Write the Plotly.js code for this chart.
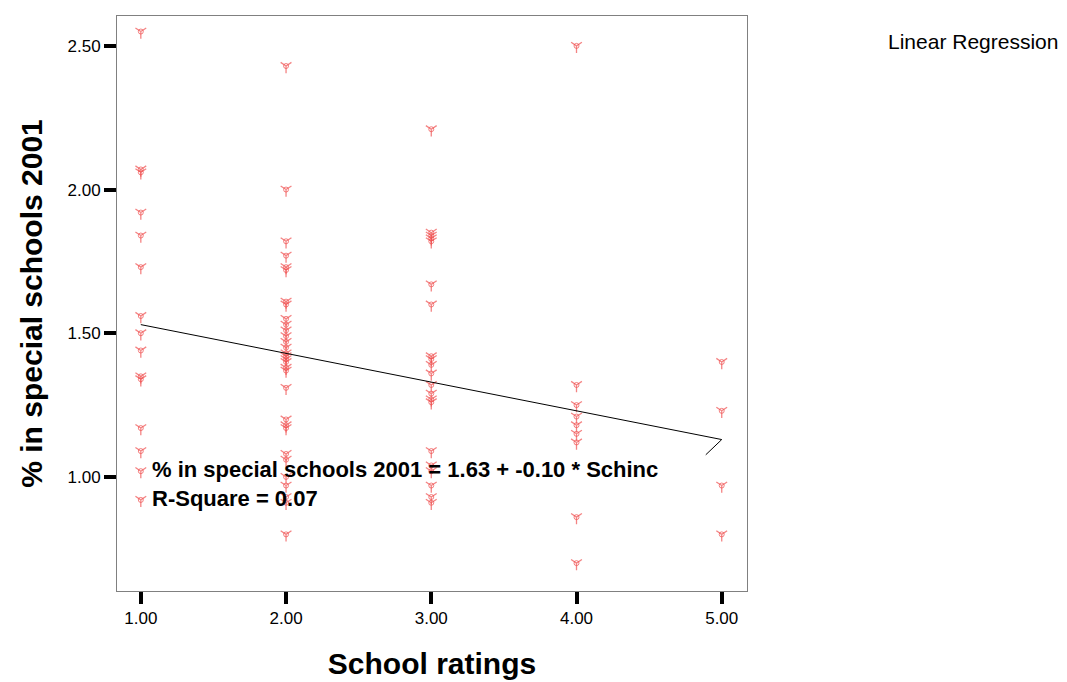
<!DOCTYPE html>
<html>
<head>
<meta charset="utf-8">
<script src="https://cdn.plot.ly/plotly-3.0.1.min.js"></script>
<style>html,body{margin:0;padding:0;background:#fff;}#chart{width:1067px;height:682px;}</style>
</head>
<body>
<div id="chart"></div>
<script>
// School rating categories and observed % in special schools 2001
const rating1 = [2.55, 2.07, 2.06, 1.92, 1.84, 1.73, 1.56, 1.50, 1.44, 1.35, 1.34, 1.17, 1.09, 1.02, 0.92];
const rating2 = [2.43, 2.00, 1.82, 1.77, 1.73, 1.72, 1.61, 1.60, 1.55, 1.53, 1.51, 1.49, 1.47, 1.45, 1.43, 1.42, 1.41, 1.40, 1.38, 1.37, 1.31, 1.20, 1.18, 1.17, 1.08, 1.06, 1.00, 0.97, 0.93, 0.91, 0.80];
const rating3 = [2.21, 1.85, 1.84, 1.83, 1.82, 1.67, 1.60, 1.42, 1.41, 1.39, 1.36, 1.32, 1.29, 1.27, 1.26, 1.09, 1.04, 1.02, 0.97, 0.93, 0.91];
const rating4 = [2.50, 1.32, 1.25, 1.21, 1.18, 1.15, 1.12, 0.86, 0.70];
const rating5 = [1.40, 1.23, 0.97, 0.80];
const ratingGroups = [1, 2, 3, 4, 5];
const groupValues = [rating1, rating2, rating3, rating4, rating5];

// Fitted regression line (as drawn, including short end stroke)
const fitX = [1, 5, 4.89];
const fitY = [1.53, 1.13, 1.077];

const xTicks = [1, 2, 3, 4, 5];
const yTicks = [1.0, 1.5, 2.0, 2.5];

const equationText = "% in special schools 2001 = 1.63 + -0.10 * Schinc<br>R-Square = 0.07";
const legendText = "Linear Regression";
const xTitle = "School ratings";
const yTitle = "% in special schools 2001";

const ptsX = [], ptsY = [];
ratingGroups.forEach((g, i) => {
  groupValues[i].forEach(v => { ptsX.push(g); ptsY.push(v); });
});

const FONT = "Liberation Sans, Arial, Helvetica, sans-serif";
const MARK = "rgba(240,80,80,0.7)";

const traces = [
  {
    type: "scatter", mode: "markers",
    x: ptsX, y: ptsY,
    marker: {symbol: "y-down-open", size: 9, color: MARK, line: {color: MARK, width: 1.3}},
    hoverinfo: "x+y", showlegend: false
  },
  {
    type: "scatter", mode: "markers",
    x: ptsX, y: ptsY,
    marker: {symbol: "circle-open", size: 5, color: MARK, line: {color: MARK, width: 1}},
    hoverinfo: "skip", showlegend: false
  },
  {
    type: "scatter", mode: "lines",
    x: fitX, y: fitY,
    line: {color: "#000", width: 1},
    name: legendText, showlegend: false, hoverinfo: "skip"
  }
];

const axisCommon = {
  showgrid: false, zeroline: false,
  showline: true, linecolor: "#808080", linewidth: 1, mirror: true,
  ticks: "outside", ticklen: 12, tickwidth: 4, tickcolor: "#000",
  tickformat: ".2f",
  tickfont: {family: FONT, size: 17, color: "#000"}
};

const layout = {
  width: 1067, height: 682,
  margin: {l: 117, r: 320, t: 16, b: 91},
  paper_bgcolor: "#fff", plot_bgcolor: "#fff",
  font: {family: FONT, color: "#000"},
  showlegend: false,
  xaxis: Object.assign({}, axisCommon, {
    range: [0.836, 5.174], tickvals: xTicks,
    title: {text: xTitle, font: {family: FONT, size: 30, weight: "bold", color: "#000"}, standoff: 25}
  }),
  yaxis: Object.assign({}, axisCommon, {
    range: [0.603, 2.604], tickvals: yTicks,
    title: {text: yTitle, font: {family: FONT, size: 30, weight: "bold", color: "#000"}, standoff: 16}
  }),
  annotations: [
    {
      xref: "x", yref: "y", x: 1.06, y: 0.976,
      xanchor: "left", yanchor: "middle", align: "left",
      text: equationText, showarrow: false,
      font: {family: FONT, size: 22, weight: "bold", color: "#000"}
    },
    {
      xref: "paper", yref: "paper", x: 1.22, y: 0.9565,
      xanchor: "left", yanchor: "middle",
      text: legendText, showarrow: false,
      font: {family: FONT, size: 21, color: "#000"}
    }
  ]
};

Plotly.newPlot("chart", traces, layout, {displayModeBar: false, staticPlot: true});
</script>
</body>
</html>
